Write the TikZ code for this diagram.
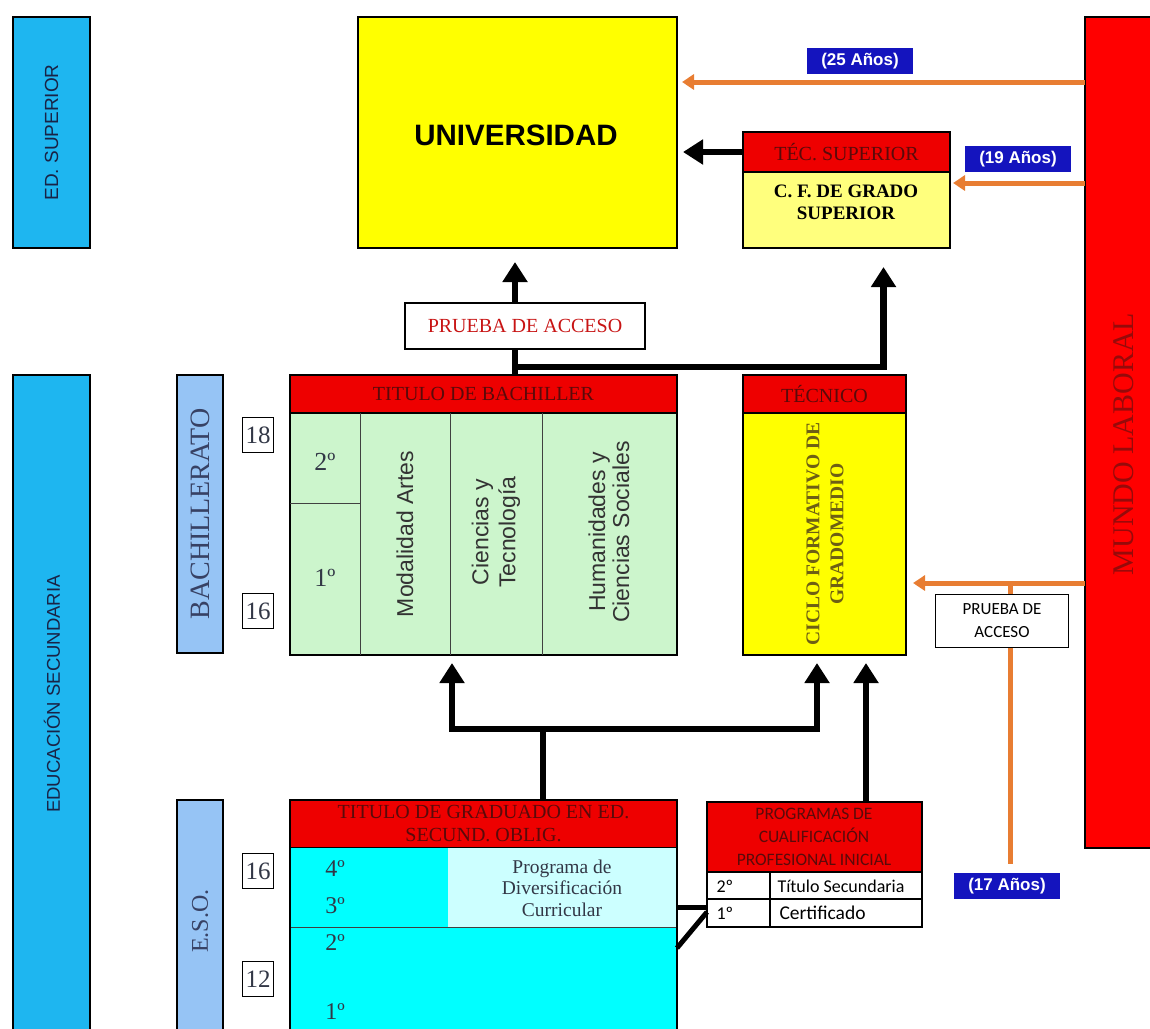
\documentclass[tikz,border=0pt]{standalone}
\usepackage{fontspec}
\setmainfont{Liberation Serif}
\setsansfont{Liberation Sans}
\newfontfamily\calibri{Carlito}
\usetikzlibrary{arrows.meta, positioning, calc}
\definecolor{skyband}{RGB}{30,182,240}
\definecolor{stageband}{RGB}{150,196,245}
\definecolor{bandtext}{RGB}{25,35,70}
\definecolor{stagetext}{RGB}{55,65,100}
\definecolor{hdrred}{RGB}{238,0,0}
\definecolor{hdrtext}{RGB}{90,10,10}
\definecolor{mundored}{RGB}{255,0,0}
\definecolor{mundotext}{RGB}{150,10,10}
\definecolor{uniyellow}{RGB}{255,255,0}
\definecolor{paleyellow}{RGB}{255,255,125}
\definecolor{palegreen}{RGB}{204,245,204}
\definecolor{esocyan}{RGB}{0,255,255}
\definecolor{palecyan}{RGB}{204,255,255}
\definecolor{laborange}{RGB}{232,125,50}
\definecolor{labelblue}{RGB}{20,20,190}
\definecolor{olivetext}{RGB}{110,95,20}
\definecolor{pruebared}{RGB}{200,20,20}
\definecolor{gradetext}{RGB}{50,55,70}
\newcommand{\fsz}[2]{\fontsize{#1}{#2}\selectfont}

\begin{document}
\begin{tikzpicture}[x=1pt,y=-1pt,
  band/.style={draw=black, line width=1.8pt, inner sep=0pt, outer sep=0pt, anchor=north west},
  hdr/.style={band, fill=hdrred, text=hdrtext, font=\fsz{20}{23}, align=center},
  agebox/.style={draw=black, line width=1pt, inner sep=0pt, minimum width=31, minimum height=35, font=\fsz{25}{25}, text=gradetext},
  grade/.style={font=\fsz{26}{26}, text=gradetext},
  yrlabel/.style={fill=labelblue, text=white, font=\sffamily\bfseries\fsz{17}{17}, minimum width=106, minimum height=26, inner sep=0pt},
  blackarrow/.style={line width=6.5pt, -{Triangle[length=20pt,width=24pt]}},
  blackline/.style={line width=6.5pt},
  linkline/.style={line width=5pt},
  orangearrow/.style={draw=laborange, line width=5pt, -{Triangle[length=12pt,width=15pt]}},
  orangeline/.style={draw=laborange, line width=5pt},
  cellline/.style={line width=1pt, black!75}
]
\useasboundingbox (0,0) rectangle (1150,1028);

% === side bands ===
\node[band, fill=skyband, minimum width=77, minimum height=231] (edsup) at (13,17) {};
\node[rotate=90, font=\sffamily\fsz{19}{19}, text=bandtext] (edsup-t) at (edsup.center) {ED. SUPERIOR};
\node[band, fill=skyband, minimum width=77, minimum height=665] (edsec) at (13,375) {};
\node[rotate=90, font=\sffamily\fsz{18.5}{18.5}, text=bandtext] (edsec-t) at (52,694) {EDUCACIÓN SECUNDARIA};
\node[band, fill=stageband, minimum width=46, minimum height=278] (bachband) at (177,375) {};
\node[rotate=90, font=\fsz{28}{28}, text=stagetext] (bachband-t) at (bachband.center) {BACHILLERATO};
\node[band, fill=stageband, minimum width=46, minimum height=240] (esoband) at (177,800) {};
\node[rotate=90, font=\fsz{24}{24}, text=stagetext] (esoband-t) at (200,921) {E.S.O.};

% === ages ===
\node[agebox] (age18) at (258,435) {18};
\node[agebox] (age16b) at (258,611) {16};
\node[agebox] (age16e) at (258,871) {16};
\node[agebox] (age12) at (258,979) {12};

% === higher education ===
\node[band, fill=uniyellow, minimum width=319, minimum height=231] (univ) at (358,17) {};
\node[font=\sffamily\bfseries\fsz{29.5}{29.5}] (univ-t) at (516,135) {UNIVERSIDAD};
\node[hdr, minimum width=207, minimum height=40] (tecsup-h) at (743,132) {TÉC. SUPERIOR};
\node[band, fill=paleyellow, minimum width=207, minimum height=76] (tecsup-b) at (743,172) {};
\node[align=center, font=\bfseries\fsz{19}{22}] (tecsup-t) at (846,202) {C. F. DE GRADO\\SUPERIOR};

% === mundo laboral ===
\node[band, fill=mundored, minimum width=90, minimum height=831] (mundo) at (1085,17) {};
\node[rotate=90, font=\fsz{30}{30}, text=mundotext] (mundo-t) at (1124,444) {MUNDO LABORAL};

% === bachillerato ===
\node[hdr, minimum width=387, minimum height=38] (bach-h) at (290,375) {TITULO DE BACHILLER};
\node[band, fill=palegreen, minimum width=387, minimum height=242] (bach-b) at (290,413) {};
\draw[cellline] (360,413) -- (360,655);
\draw[cellline] (450,413) -- (450,655);
\draw[cellline] (542,413) -- (542,655);
\draw[cellline] (290,503) -- (360,503);
\node[grade] (bach-2) at (325,462) {2º};
\node[grade] (bach-1) at (325,578) {1º};
\node[rotate=90, font=\sffamily\fsz{23}{27}, text=black!80] (artes) at (405,534) {Modalidad Artes};
\node[rotate=90, align=center, font=\sffamily\fsz{23}{27}, text=black!80] (ciencias) at (496,532) {Ciencias y\\Tecnología};
\node[rotate=90, align=center, font=\sffamily\fsz{23}{24}, text=black!80] (humanidades) at (609,532) {Humanidades y\\Ciencias Sociales};

% === tecnico ===
\node[hdr, minimum width=163, minimum height=38] (tec-h) at (743,375) {TÉCNICO};
\node[band, fill=uniyellow, minimum width=163, minimum height=242] (tec-b) at (743,413) {};
\node[rotate=90, align=center, font=\bfseries\fsz{19.5}{24}, text=olivetext] (tec-t) at (825,534) {CICLO FORMATIVO DE\\GRADOMEDIO};

% === eso ===
\node[hdr, minimum width=387, minimum height=48] (eso-h) at (290,800) {TITULO DE GRADUADO EN ED.\\SECUND. OBLIG.};
\node[anchor=north west, fill=esocyan, inner sep=0pt, minimum width=158, minimum height=79] (eso-a) at (290,848) {};
\node[anchor=north west, fill=palecyan, inner sep=0pt, minimum width=229, minimum height=79] (eso-d) at (448,848) {};
\node[anchor=north west, fill=esocyan, inner sep=0pt, minimum width=387, minimum height=110] (eso-c) at (290,927) {};
\draw[cellline] (290,927) -- (677,927);
\node[band, minimum width=387, minimum height=240] (eso-f) at (290,800) {};
\node[grade, font=\fsz{24}{24}] (eso-4) at (335,869) {4º};
\node[grade, font=\fsz{24}{24}] (eso-3) at (335,906) {3º};
\node[grade, font=\fsz{24}{24}] (eso-2) at (335,943) {2º};
\node[grade, font=\fsz{24}{24}] (eso-1) at (335,1012) {1º};
\node[align=center, font=\fsz{19.5}{21.5}, text=gradetext] (diversif) at (562,888) {Programa de\\Diversificación\\Curricular};

% === pcpi ===
\node[band, fill=hdrred, minimum width=215, minimum height=70] (pcpi-h) at (707,802) {};
\node[align=center, font=\calibri\fsz{17.5}{23}, text=hdrtext] (pcpi-t) at (814,837) {PROGRAMAS DE\\CUALIFICACIÓN\\PROFESIONAL INICIAL};
\node[band, fill=white, minimum width=215, minimum height=27, line width=1.2pt] (pcpi-r2) at (707,872) {};
\node[band, fill=white, minimum width=215, minimum height=28, line width=1.2pt] (pcpi-r1) at (707,899) {};
\draw[line width=1.2pt] (770,872) -- (770,927);
\node[anchor=west, font=\calibri\fsz{18}{18}] (pcpi-2) at (713,886) {2º};
\node[anchor=west, font=\calibri\fsz{18}{18}] (pcpi-1) at (713,913) {1º};
\node[anchor=west, font=\calibri\fsz{18}{18}] (pcpi-tit) at (774,886) {Título Secundaria};
\node[anchor=west, font=\calibri\fsz{19.5}{19.5}] (pcpi-cert) at (776,913) {Certificado};

% === access tests and labels ===
\coordinate (jn1) at (515,367);
\draw[blackarrow, shorten >=14pt] (bach-h.north -| jn1) -- (univ.south -| jn1);
\draw[blackarrow, shorten >=19pt] (jn1) -| ([xshift=37pt]tecsup-b.south);
\node[draw=black, line width=1.2pt, fill=white, minimum width=240, minimum height=46, inner sep=0pt, font=\fsz{20}{20}, text=pruebared] (prueba1) at (525,326) {PRUEBA DE ACCESO};

\coordinate (jn2) at (543,729);
\draw[blackline] (eso-h.north -| jn2) -- (jn2);
\draw[blackarrow, shorten >=8pt] (jn2) -| ([xshift=-31.5pt]bach-b.south);
\draw[blackarrow, shorten >=8pt] (jn2) -| ([xshift=-7.5pt]tec-b.south);
\draw[blackarrow, shorten >=8pt] ([xshift=51.5pt]pcpi-h.north) -- ([xshift=41.5pt]tec-b.south);

\draw[blackarrow, shorten >=6pt] (tecsup-h.west) -- (univ.east |- tecsup-h.west);

\coordinate (y25) at (0,82);
\coordinate (y19) at (0,183);
\coordinate (jn3) at (1010,583);
\draw[orangearrow, shorten >=5pt] (mundo.west |- y25) -- (univ.east |- y25);
\draw[orangearrow, shorten >=3pt] (mundo.west |- y19) -- (tecsup-b.east |- y19);
\draw[orangearrow, shorten >=7pt] (mundo.west |- jn3) -- (tec-b.east |- jn3);
\node[yrlabel] (lab25) at (860,61) {(25 Años)};
\node[yrlabel] (lab19) at (1018,159) {(19 Años)};
\node[yrlabel] (lab17) at (1007,886) {(17 Años)};
\draw[orangeline, shorten <=9pt] (lab17.north -| jn3) -- (jn3);
\node[draw=black, line width=1.2pt, fill=white, minimum width=133, minimum height=53, inner sep=0pt, align=center, font=\calibri\fsz{17}{23}] (prueba2) at (1002,621) {PRUEBA DE\\ACCESO};

% === eso to pcpi links ===
\coordinate (k1) at (0,907);
\coordinate (k2) at (0,948);
\coordinate (k3) at (0,912);
\draw[linkline] (eso-f.east |- k1) -- (pcpi-r1.west |- k1);
\draw[linkline] (eso-f.east |- k2) -- (pcpi-r1.west |- k3);
\end{tikzpicture}
\end{document}
